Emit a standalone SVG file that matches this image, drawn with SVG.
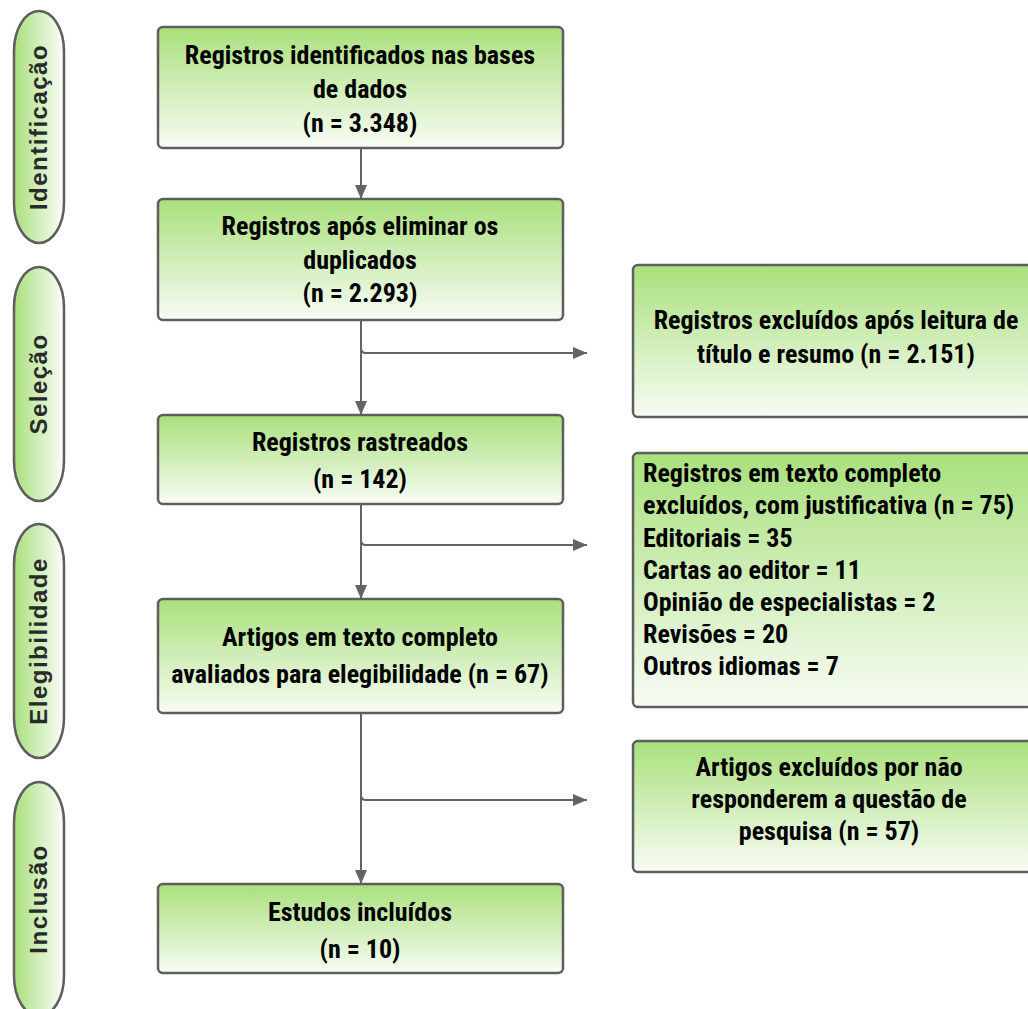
<svg xmlns="http://www.w3.org/2000/svg" width="1028" height="1009" viewBox="0 0 1028 1009">
<defs>
<linearGradient id="gv" x1="0" y1="0" x2="0" y2="1">
<stop offset="0" stop-color="#a9e07c"/>
<stop offset="1" stop-color="#f8fcf5"/>
</linearGradient>
<linearGradient id="gh" x1="0" y1="0" x2="1" y2="0">
<stop offset="0" stop-color="#a9e07c"/>
<stop offset="1" stop-color="#fbfdf9"/>
</linearGradient>
<marker id="ah" markerWidth="14" markerHeight="12" refX="14" refY="6" orient="auto" markerUnits="userSpaceOnUse">
<path d="M0,0 L14,6 L0,12 Z" fill="#646464"/>
</marker>
<style>
.box{fill:url(#gv);stroke:#5e5e5e;stroke-width:2.5}
.pill{fill:url(#gh);stroke:#5e5e5e;stroke-width:2.5}
.t{font-family:"Liberation Sans Narrow","Roboto Condensed","Liberation Sans",sans-serif;font-weight:bold;font-size:26px;fill:#000;text-anchor:middle}
.tl{text-anchor:start}
.side{font-family:"Liberation Sans",Arial,sans-serif;font-weight:bold;font-size:24px;letter-spacing:1.5px;fill:#2a2a2a;text-anchor:middle}
.c{fill:none;stroke:#646464;stroke-width:2}
</style>
</defs>
<rect width="1028" height="1009" fill="#fff"/>

<g id="phase-identificacao">
<rect class="pill" x="14" y="11" width="50" height="232" rx="25" ry="40"/>
<text class="side" transform="translate(39,127) rotate(-90)" y="8">Identificação</text>
</g>
<g id="phase-selecao">
<rect class="pill" x="14" y="267" width="50" height="234" rx="25" ry="40"/>
<text class="side" transform="translate(39,384) rotate(-90)" y="8">Seleção</text>
</g>
<g id="phase-elegibilidade">
<rect class="pill" x="14" y="524" width="50" height="234" rx="25" ry="40"/>
<text class="side" transform="translate(39,641) rotate(-90)" y="8">Elegibilidade</text>
</g>
<g id="phase-inclusao">
<rect class="pill" x="14" y="782" width="50" height="234" rx="25" ry="40"/>
<text class="side" transform="translate(39,899) rotate(-90)" y="8">Inclusão</text>
</g>

<g id="connectors">
<path class="c" d="M361,148 V199" marker-end="url(#ah)"/>
<path class="c" d="M361,320 V415" marker-end="url(#ah)"/>
<path class="c" d="M361,348 Q361,353 366,353 H587" marker-end="url(#ah)"/>
<path class="c" d="M361,504 V599" marker-end="url(#ah)"/>
<path class="c" d="M361,540 Q361,545 366,545 H587" marker-end="url(#ah)"/>
<path class="c" d="M361,713 V884" marker-end="url(#ah)"/>
<path class="c" d="M361,795 Q361,800 366,800 H587" marker-end="url(#ah)"/>
</g>

<g id="n1">
<rect class="box" x="158" y="27" width="405" height="121" rx="5"/>
<text class="t" x="360" y="64">Registros identificados nas bases</text>
<text class="t" x="360" y="98">de dados</text>
<text class="t" x="360" y="132">(n = 3.348)</text>
</g>
<g id="n2">
<rect class="box" x="158" y="199" width="405" height="121" rx="5"/>
<text class="t" x="360" y="235">Registros após eliminar os</text>
<text class="t" x="360" y="269">duplicados</text>
<text class="t" x="360" y="302">(n = 2.293)</text>
</g>
<g id="n3">
<rect class="box" x="158" y="415" width="405" height="89" rx="5"/>
<text class="t" x="360" y="451">Registros rastreados</text>
<text class="t" x="360" y="488">(n = 142)</text>
</g>
<g id="n4">
<rect class="box" x="158" y="599" width="405" height="114" rx="5"/>
<text class="t" x="360" y="646">Artigos em texto completo</text>
<text class="t" x="360" y="683">avaliados para elegibilidade (n = 67)</text>
</g>
<g id="n5">
<rect class="box" x="158" y="884" width="405" height="89" rx="5"/>
<text class="t" x="360" y="921">Estudos incluídos</text>
<text class="t" x="360" y="958">(n = 10)</text>
</g>

<g id="ex1">
<rect class="box" x="633" y="265" width="410" height="152" rx="5"/>
<text class="t" x="836" y="329">Registros excluídos após leitura de</text>
<text class="t" x="836" y="363">título e resumo (n = 2.151)</text>
</g>
<g id="ex2">
<rect class="box" x="633" y="453" width="410" height="254" rx="5"/>
<text class="t tl" x="643" y="482">Registros em texto completo</text>
<text class="t tl" x="643" y="514">excluídos, com justificativa (n = 75)</text>
<text class="t tl" x="643" y="547">Editoriais = 35</text>
<text class="t tl" x="643" y="579">Cartas ao editor = 11</text>
<text class="t tl" x="643" y="611">Opinião de especialistas = 2</text>
<text class="t tl" x="643" y="643">Revisões = 20</text>
<text class="t tl" x="643" y="675">Outros idiomas = 7</text>
</g>
<g id="ex3">
<rect class="box" x="633" y="741" width="410" height="131" rx="5"/>
<text class="t" x="829" y="776">Artigos excluídos por não</text>
<text class="t" x="829" y="808">responderem a questão de</text>
<text class="t" x="829" y="840">pesquisa (n = 57)</text>
</g>
</svg>
